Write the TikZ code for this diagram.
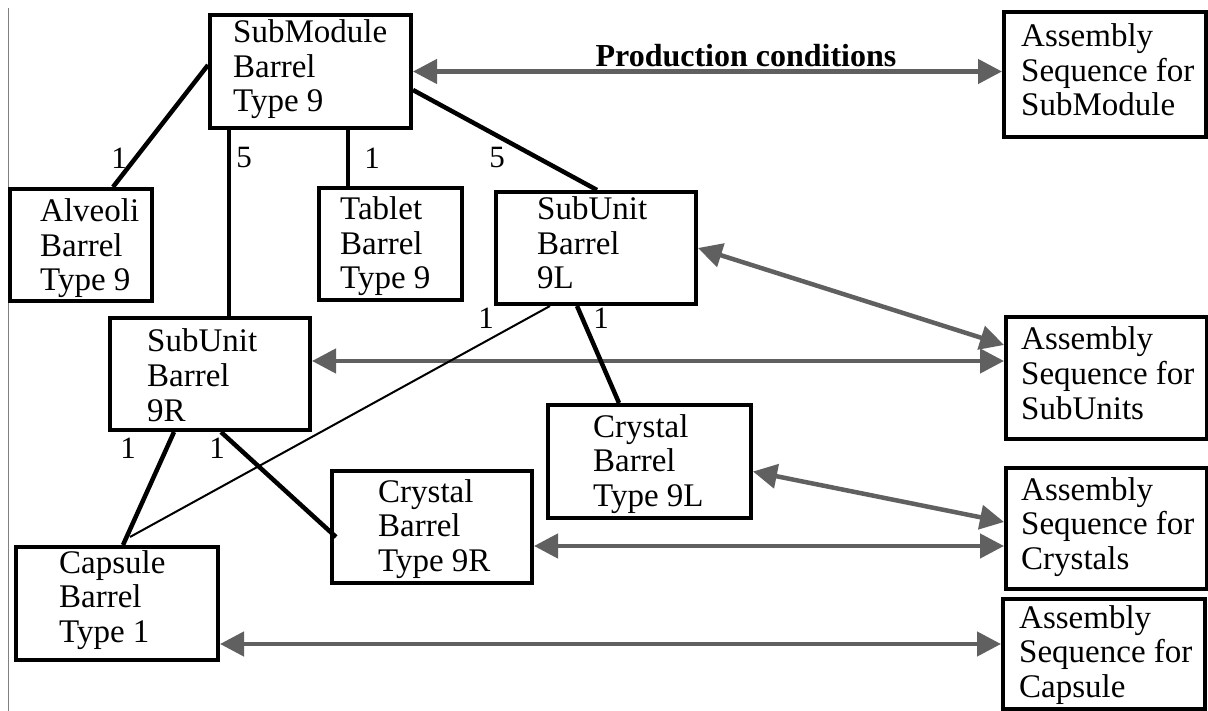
\documentclass[tikz,border=0pt]{standalone}
\usepackage{fontspec}
\setmainfont{Liberation Serif}
\usetikzlibrary{arrows.meta}
\definecolor{argray}{RGB}{96,96,96}
\tikzset{
 box/.style={draw, line width=4pt, rectangle, inner sep=0pt, anchor=north west},
 txt/.style={anchor=base west, inner sep=0pt, font=\fontsize{33}{35}\selectfont},
 num/.style={inner sep=0pt, font=\fontsize{31}{33}\selectfont},
 link/.style={line width=4.5pt},
 thinlink/.style={line width=2pt},
 seq/.style={draw=argray, line width=4.5pt, {Triangle[length=24pt,width=24pt]}-{Triangle[length=24pt,width=24pt]}},
}
\newcommand\boxlines[6]{%
 \node[txt] (#1a) at (#2,#3) {#4};
 \node[txt] (#1b) at (#2,#3+34.5) {#5};
 \node[txt] (#1c) at (#2,#3+69) {#6};}
\begin{document}
\begin{tikzpicture}[x=1pt,y=-1pt]
\useasboundingbox (0,0) rectangle (1208,711);
\fill[white] (0,0) rectangle (1208,711);
\draw[line width=1pt, gray] (8,8) -- (8,711);

% boxes
\node[box, minimum width=201pt, minimum height=113pt] (sm) at (208,13) {};
\node[box, minimum width=142pt, minimum height=112pt] (alv) at (8,187) {};
\node[box, minimum width=143pt, minimum height=112pt] (tab) at (317,186) {};
\node[box, minimum width=200pt, minimum height=112pt] (su9l) at (494,190) {};
\node[box, minimum width=202pt, minimum height=125pt] (asm) at (1002,10) {};
\node[box, minimum width=200pt, minimum height=112pt] (su9r) at (108,316) {};
\node[box, minimum width=203pt, minimum height=113pt] (c9l) at (546,403) {};
\node[box, minimum width=200pt, minimum height=112pt] (c9r) at (330,469) {};
\node[box, minimum width=202pt, minimum height=113pt] (cap) at (14,545) {};
\node[box, minimum width=201pt, minimum height=122pt] (asu) at (1004,315) {};
\node[box, minimum width=201pt, minimum height=121pt] (acr) at (1004,466) {};
\node[box, minimum width=202pt, minimum height=110pt] (aca) at (1001,597) {};

% texts
\boxlines{smt}{233}{43}{SubModule}{Barrel}{Type 9}
\boxlines{alvt}{40}{222}{Alveoli}{Barrel}{Type 9}
\boxlines{tabt}{340}{220}{Tablet}{Barrel}{Type 9}
\boxlines{sult}{537}{220}{SubUnit}{Barrel}{9L}
\boxlines{surt}{147}{352}{SubUnit}{Barrel}{9R}
\boxlines{crrt}{378}{502}{Crystal}{Barrel}{Type 9R}
\boxlines{capt}{59}{573}{Capsule}{Barrel}{Type 1}
\boxlines{crlt}{593}{437}{Crystal}{Barrel}{Type 9L}
\boxlines{asmt}{1021}{47}{Assembly}{Sequence for}{SubModule}
\boxlines{asut}{1021}{350}{Assembly}{Sequence for}{SubUnits}
\boxlines{acrt}{1021}{500}{Assembly}{Sequence for}{Crystals}
\boxlines{acat}{1019}{628}{Assembly}{Sequence for}{Capsule}

% gray two-way arrows
\draw[seq] (sm.east) -- (sm.east -| asm.west);
\draw[seq] (su9l.east) -- ([yshift=33pt]asu.west);
\draw[seq] ([yshift=13pt]su9r.east) -- ([yshift=13pt]su9r.east -| asu.west);
\draw[seq] ([yshift=-10pt]c9l.east) -- ([yshift=6.5pt]acr.west);
\draw[seq] ([yshift=-19pt]c9r.east) -- ([yshift=-19pt]c9r.east -| acr.west);
\draw[seq] ([yshift=-40.5pt]cap.east) -- ([yshift=-40.5pt]cap.east -| aca.west);

\node[anchor=base, inner sep=0pt, font=\bfseries\fontsize{32}{34}\selectfont] (prod) at (746,67) {Production conditions};

% structure links
\draw[link] ([yshift=-52pt]sm.north west) -- ([xshift=105pt]alv.north west);
\draw[link] ([xshift=21pt]sm.south west) -- ([xshift=121pt]su9r.north west);
\draw[link] ([xshift=140pt]sm.south west) -- ([xshift=31pt]tab.north west);
\draw[link] ([yshift=-77pt]sm.north east) -- ([xshift=103pt]su9l.north west);
\draw[thinlink] ([xshift=56pt]su9l.south west) -- ([xshift=116pt,yshift=8pt]cap.north west);
\draw[link] ([xshift=83pt]su9l.south west) -- ([xshift=73pt]c9l.north west);
\draw[link] ([xshift=66pt]su9r.south west) -- ([xshift=109pt]cap.north west);
\draw[link] ([xshift=113pt]su9r.south west) -- ([xshift=6pt,yshift=-68pt]c9r.north west);

% multiplicities
\node[num] (n1) at (119,158) {1};
\node[num] (n2) at (244,158) {5};
\node[num] (n3) at (372,158) {1};
\node[num] (n4) at (497,158) {5};
\node[num] (n5) at (486,318) {1};
\node[num] (n6) at (601,318) {1};
\node[num] (n7) at (128,448) {1};
\node[num] (n8) at (217,448) {1};
\end{tikzpicture}
\end{document}
